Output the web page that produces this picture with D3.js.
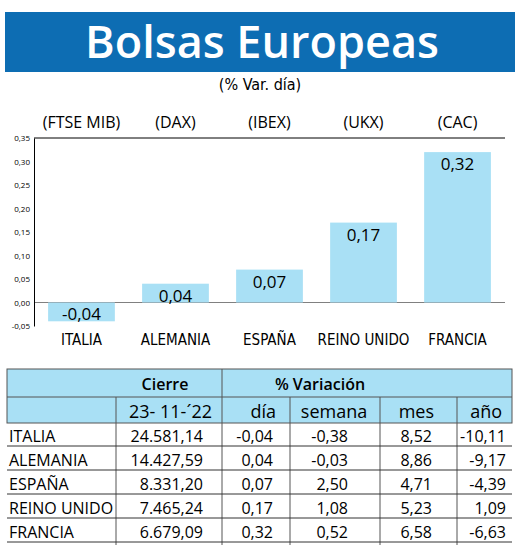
<!DOCTYPE html><html><head><meta charset="utf-8"><script src="https://cdn.jsdelivr.net/npm/d3@7"></script>
<style>body{margin:0;background:#fff}text{font-family:"Open Sans","Noto Sans",sans-serif}.n{font-family:"Liberation Sans Narrow","DejaVu Sans Condensed","Roboto Condensed",sans-serif}</style></head><body><svg id="c" width="520" height="548"></svg>
<script>
const countries=["ITALIA","ALEMANIA","ESPAÑA","REINO UNIDO","FRANCIA"];
const indices=["(FTSE MIB)","(DAX)","(IBEX)","(UKX)","(CAC)"];
const dayVar=[-0.04,0.04,0.07,0.17,0.32];
const yTicks=[-0.05,0,0.05,0.10,0.15,0.20,0.25,0.30,0.35];
const cierre=["24.581,14","14.427,59","8.331,20","7.465,24","6.679,09"];
const dia=["-0,04","0,04","0,07","0,17","0,32"];
const semana=["-0,38","-0,03","2,50","1,08","0,52"];
const mes=["8,52","8,86","4,71","5,23","6,58"];
const ano=["-10,11","-9,17","-4,39","1,09","-6,63"];
const fmt=v=>d3.format(".2f")(v).replace(".",",").replace("−","-");
const svg=d3.select("#c");
svg.append("rect").attr("x",5).attr("y",12).attr("width",510).attr("height",60).attr("fill","#0d6db3");
svg.append("text").attr("x",262).attr("y",58).attr("text-anchor","middle").attr("fill","#fff").attr("font-size",45).attr("font-weight",600).text("Bolsas Europeas");
svg.append("text").attr("x",260).attr("y",90).attr("text-anchor","middle").attr("font-size",16).attr("class","n").text("(% Var. día)");
const x=d3.scaleBand().domain(countries).range([34,505]).paddingInner(0.29).paddingOuter(0.15);
const y=d3.scaleLinear().domain([-0.05,0.35]).range([326,138]);
svg.append("g").selectAll("text").data(indices).join("text").attr("x",(d,i)=>x(countries[i])+x.bandwidth()/2).attr("y",128).attr("text-anchor","middle").attr("font-size",16).text(d=>d);
const ax=svg.append("g").attr("transform","translate(34,0)").call(d3.axisLeft(y).tickValues(yTicks).tickSize(0).tickPadding(4).tickFormat(fmt));
ax.select(".domain").attr("stroke","#000");ax.selectAll("text").attr("font-size",8);
svg.append("line").attr("x1",34).attr("x2",505).attr("y1",y(0.35)).attr("y2",y(0.35)).attr("stroke","#000");
svg.append("line").attr("x1",34).attr("x2",505).attr("y1",y(0)).attr("y2",y(0)).attr("stroke","#000").attr("stroke-width",0.5);
svg.append("g").selectAll("rect").data(dayVar).join("rect").attr("x",(d,i)=>x(countries[i])).attr("width",x.bandwidth())
 .attr("y",d=>y(Math.max(0,d))).attr("height",d=>Math.abs(y(d)-y(0))).attr("fill","#a9e0f5");
svg.append("g").selectAll("text").data(dayVar).join("text").attr("x",(d,i)=>x(countries[i])+x.bandwidth()/2)
 .attr("y",d=>d<0?y(0)+17:y(d)+18).attr("text-anchor","middle").attr("font-size",17).text(fmt);
svg.append("g").selectAll("text").data(countries).join("text").attr("class","n").attr("x",d=>x(d)+x.bandwidth()/2).attr("y",345).attr("text-anchor","middle").attr("font-size",15).text(d=>d);
const L=7,R=512;
svg.append("rect").attr("x",L).attr("y",369).attr("width",R-L).attr("height",54).attr("fill","#a9e0f5").attr("stroke","#555");
svg.append("line").attr("x1",L).attr("x2",R).attr("y1",397).attr("y2",397).attr("stroke","#555");
svg.append("line").attr("x1",222).attr("x2",222).attr("y1",369).attr("y2",545).attr("stroke","#555");
[116,290,380,457].forEach(c=>svg.append("line").attr("x1",c).attr("x2",c).attr("y1",397).attr("y2",545).attr("stroke","#555"));
svg.append("text").attr("x",165).attr("y",390).attr("text-anchor","middle").attr("font-size",16).attr("font-weight",600).text("Cierre");
svg.append("text").attr("x",320).attr("y",390).attr("text-anchor","middle").attr("font-size",16).attr("font-weight",600).text("% Variación");
const hdr=[["23- 11-´22",212,"end"],["día",276,"end"],["semana",334,"middle"],["mes",434,"end"],["año",502,"end"]];
hdr.forEach(h=>svg.append("text").attr("x",h[1]).attr("y",418).attr("text-anchor",h[2]).attr("font-size",18).text(h[0]));
const rows=countries.map((c,i)=>[c,cierre[i],dia[i],semana[i],mes[i],ano[i]]);
const rowY=d3.scaleBand().domain(d3.range(5)).range([423,543]);
rows.forEach((r,i)=>{const yy=rowY(i)+19;
 svg.append("line").attr("x1",L).attr("x2",R).attr("y1",rowY(i)+rowY.bandwidth()-1).attr("y2",rowY(i)+rowY.bandwidth()-1).attr("stroke","#333");
 const g=svg.append("g").attr("font-size",16).attr("class","n");
 g.append("text").attr("x",9).attr("y",yy).text(r[0]);
 g.append("text").attr("x",203).attr("y",yy).attr("text-anchor","end").text(r[1]);
 g.append("text").attr("x",273).attr("y",yy).attr("text-anchor","end").text(r[2]);
 g.append("text").attr("x",348).attr("y",yy).attr("text-anchor","end").text(r[3]);
 g.append("text").attr("x",432).attr("y",yy).attr("text-anchor","end").text(r[4]);
 g.append("text").attr("x",506).attr("y",yy).attr("text-anchor","end").text(r[5]);
});
</script></body></html>
